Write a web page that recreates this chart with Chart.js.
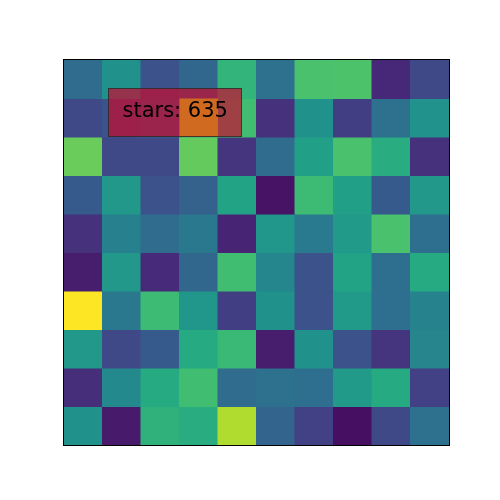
<!DOCTYPE html>
<html>
<head>
<meta charset="utf-8">
<script src="https://cdn.jsdelivr.net/npm/chart.js@4/dist/chart.umd.min.js"></script>
<style>
  body { margin: 0; background: #fff; }
  canvas { display: block; }
</style>
</head>
<body>
<canvas id="chart" width="500" height="500"></canvas>
<script>
// columnas y filas de la cuadricula
const cols = ['0', '1', '2', '3', '4', '5', '6', '7', '8', '9'];
const rows = ['0', '1', '2', '3', '4', '5', '6', '7', '8', '9'];

// estrellas por celda, fila 0 arriba
const stars = [
  [350, 500, 250, 330, 650, 370, 710, 715, 110, 220],
  [220, 250, 300, 635, 690, 140, 500, 180, 370, 505],
  [770, 220, 220, 760, 150, 350, 560, 710, 620, 140],
  [280, 530, 250, 310, 580,  50, 680, 560, 280, 530],
  [140, 430, 350, 400, 100, 520, 410, 540, 710, 360],
  [ 80, 530, 120, 330, 690, 460, 250, 580, 360, 610],
  [1000, 400, 680, 520, 180, 500, 250, 540, 360, 440],
  [530, 220, 280, 610, 670,  80, 500, 250, 150, 450],
  [130, 470, 610, 690, 350, 370, 360, 540, 610, 190],
  [500,  70, 640, 620, 880, 320, 190,  40, 220, 370]
];

// celda marcada
const hoverRow = 1;
const hoverCol = 3;

// viridis aproximado
const viridis = ['#440154', '#482475', '#414487', '#355f8d', '#2a788e', '#21918c',
                 '#22a884', '#44bf70', '#7ad151', '#bddf26', '#fde725'];

function hex(h) {
  return [parseInt(h.slice(1, 3), 16), parseInt(h.slice(3, 5), 16), parseInt(h.slice(5, 7), 16)];
}

function colorFor(v) {
  const t = Math.max(0, Math.min(1, v / 1000)) * (viridis.length - 1);
  const i = Math.min(Math.floor(t), viridis.length - 2);
  const f = t - i;
  const a = hex(viridis[i]), b = hex(viridis[i + 1]);
  const c = a.map((x, k) => Math.round(x + (b[k] - x) * f));
  return `rgb(${c[0]},${c[1]},${c[2]})`;
}

const datasets = rows.map((r, ri) => ({
  label: 'fila ' + r,
  data: cols.map(() => 1),
  backgroundColor: stars[ri].map(colorFor),
  borderWidth: 0,
  inflateAmount: 0.5,
  categoryPercentage: 1,
  barPercentage: 1
}));

// marco negro + recuadro de anotacion
const extras = {
  id: 'extras',
  afterDraw(chart) {
    const c = chart.ctx;
    const a = chart.chartArea;

    const el = chart.getDatasetMeta(hoverRow).data[hoverCol];
    const w = el.width;
    const top = Math.min(el.y, el.base), bottom = Math.max(el.y, el.base);
    const left = el.x - w / 2, right = el.x + w / 2;

    const txt = 'stars: ' + stars[hoverRow][hoverCol];
    c.save();
    c.font = '21px "DejaVu Sans"';
    const tw = c.measureText(txt).width;
    const bx = Math.round(el.x - 90.5) + 0.5;
    const by = Math.round((top + bottom) / 2 - 30) + 0.5;
    const bw = Math.round(tw + 28);
    const bh = 48;

    c.fillStyle = 'rgba(200,12,48,0.7)';
    c.fillRect(bx, by, bw, bh);
    // celda resaltada
    c.fillStyle = 'rgb(208,106,32)';
    c.fillRect(left, top, right - left, bottom - top);

    c.strokeStyle = 'rgba(50,40,40,0.85)';
    c.lineWidth = 1;
    c.strokeRect(bx, by, bw, bh);

    c.fillStyle = '#000';
    c.textBaseline = 'middle';
    c.fillText(txt, bx + 14, by + bh / 2 - 1);

    c.strokeStyle = '#000';
    c.lineWidth = 1;
    c.strokeRect(a.left - 0.5, a.top - 0.5, a.right - a.left + 1, a.bottom - a.top + 1);
    c.restore();
  }
};

new Chart(document.getElementById('chart'), {
  type: 'bar',
  data: { labels: cols, datasets },
  options: {
    responsive: false,
    animation: false,
    events: [],
    layout: { padding: { left: 64, top: 60, right: 51, bottom: 55 } },
    plugins: { legend: { display: false }, tooltip: { enabled: false } },
    scales: {
      x: { display: false, stacked: true },
      y: { display: false, stacked: true, reverse: true, min: 0, max: rows.length }
    }
  },
  plugins: [extras]
});
</script>
</body>
</html>
